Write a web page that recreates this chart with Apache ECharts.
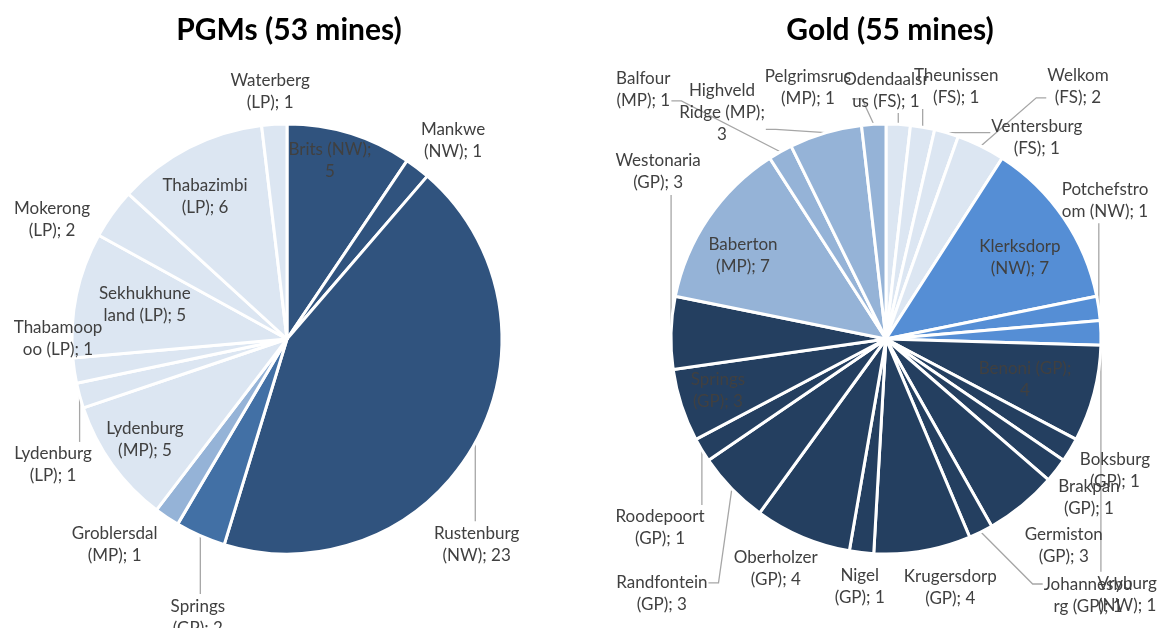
<!DOCTYPE html>
<html>
<head>
<meta charset="utf-8">
<script src="https://cdn.jsdelivr.net/npm/echarts@6.0.0/dist/echarts.min.js"></script>
<style>html,body{margin:0;padding:0;background:#fff}#c{width:1161px;height:628px}</style>
</head>
<body>
<div id="c"></div>
<script>
// ---------- DATA ----------
const pgmTitle = 'PGMs (53 mines)';
const pgmNames = ['Brits (NW)', 'Mankwe (NW)', 'Rustenburg (NW)', 'Springs (GP)', 'Groblersdal (MP)', 'Lydenburg (MP)',
  'Lydenburg (LP)', 'Thabamoopoo (LP)', 'Sekhukhuneland (LP)', 'Mokerong (LP)', 'Thabazimbi (LP)', 'Waterberg (LP)'];
const pgmValues = [5, 1, 23, 2, 1, 5, 1, 1, 5, 2, 6, 1];
const pgmLabelPrefix = ['Brits (NW);\n', 'Mankwe\n(NW); ', 'Rustenburg\n(NW); ', 'Springs\n(GP); ', 'Groblersdal\n(MP); ', 'Lydenburg\n(MP); ',
  'Lydenburg\n(LP); ', 'Thabamoop\noo (LP); ', 'Sekhukhune\nland (LP); ', 'Mokerong\n(LP); ', 'Thabazimbi\n(LP); ', 'Waterberg\n(LP); '];

const goldTitle = 'Gold (55 mines)';
const goldNames = ['Odendaalsrus (FS)', 'Theunissen (FS)', 'Ventersburg (FS)', 'Welkom (FS)', 'Klerksdorp (NW)', 'Potchefstroom (NW)',
  'Vryburg (NW)', 'Benoni (GP)', 'Boksburg (GP)', 'Brakpan (GP)', 'Germiston (GP)', 'Johannesburg (GP)', 'Krugersdorp (GP)',
  'Nigel (GP)', 'Oberholzer (GP)', 'Randfontein (GP)', 'Roodepoort (GP)', 'Springs (GP)', 'Westonaria (GP)', 'Baberton (MP)',
  'Balfour (MP)', 'Highveld Ridge (MP)', 'Pelgrimsrus (MP)'];
const goldValues = [1, 1, 1, 2, 7, 1, 1, 4, 1, 1, 3, 1, 4, 1, 4, 3, 1, 3, 3, 7, 1, 3, 1];
const goldLabelPrefix = ['Odendaalsr\nus (FS); ', 'Theunissen\n(FS); ', 'Ventersburg\n(FS); ', 'Welkom\n(FS); ', 'Klerksdorp\n(NW); ',
  'Potchefstro\nom (NW); ', 'Vryburg\n(NW); ', 'Benoni (GP);\n', 'Boksburg\n(GP); ', 'Brakpan\n(GP); ', 'Germiston\n(GP); ',
  'Johannesbu\nrg (GP); ', 'Krugersdorp\n(GP); ', 'Nigel\n(GP); ', 'Oberholzer\n(GP); ', 'Randfontein\n(GP); ', 'Roodepoort\n(GP); ',
  'Springs\n(GP); ', 'Westonaria\n(GP); ', 'Baberton\n(MP); ', 'Balfour\n(MP); ', 'Highveld\nRidge (MP);\n', 'Pelgrimsrus\n(MP); '];

// ---------- STYLE ----------
const C_NW = '#30537E', C_GP1 = '#4270A5', C_MP = '#95B3D7', C_LIGHT = '#DCE6F2';
const pgmColors = [C_NW, C_NW, C_NW, C_GP1, C_MP, C_LIGHT, C_LIGHT, C_LIGHT, C_LIGHT, C_LIGHT, C_LIGHT, C_LIGHT];
const goldColors = [C_LIGHT, C_LIGHT, C_LIGHT, C_LIGHT, '#558ED5', '#558ED5', '#558ED5',
  '#243F60', '#243F60', '#243F60', '#243F60', '#243F60', '#243F60', '#243F60', '#243F60', '#243F60', '#243F60', '#243F60', '#243F60',
  C_MP, C_MP, C_MP, C_MP];
// label placement: [radius factor, angle shift (deg), show leader line]
const pgmPlace = [[0.856,-3.5,0],[1.205,2.5,0],[1.30,18.4,1],[1.358,-6,1],[1.248,6,0],[0.81,0.3,0],[1.236,-13,1],[1.065,8.5,0],
  [0.68,1.6,0],[1.225,-8.8,0],[0.763,-2.8,0],[1.152,-0.5,0]];
const goldPlace = [[1.158,-3.3,1],[1.221,5.7,1],[1.169,20.5,1],[1.474,11.1,1],[0.728,3.2,0],[1.206,-24.2,1],[1.635,48.3,1],
  [0.674,1.7,0],[1.227,-1.3,0],[1.197,0.3,0],[1.266,-1.5,0],[1.517,-12.1,1],[1.192,-4.7,0],[1.160,-0.5,0],[1.186,2.7,0],
  [1.579,-4.5,1],[1.37,-8.8,1],[0.817,1.1,0],[1.314,34.6,1],[0.771,-4,0],[1.618,-14.8,1],[1.299,-19.6,1],[1.223,-14,1]];

const FONT = 'Lato, "Open Sans", sans-serif';
const R = 215;
const pies = [
  {center: [287, 339], names: pgmNames, values: pgmValues, prefix: pgmLabelPrefix, colors: pgmColors, place: pgmPlace},
  {center: [886, 339], names: goldNames, values: goldValues, prefix: goldLabelPrefix, colors: goldColors, place: goldPlace}
];

function midAngle(values, i) {
  const total = values.reduce((a, b) => a + b, 0);
  let before = 0;
  for (let j = 0; j < i; j++) before += values[j];
  return (before + values[i] / 2) / total * 2 * Math.PI;
}

function makeLayout(p) {
  return function (params) {
    const i = params.dataIndex;
    const th = midAngle(p.values, i);
    const pl = p.place[i];
    const cx = p.center[0], cy = p.center[1];
    const a = th + pl[1] * Math.PI / 180;
    const lx = cx + pl[0] * R * Math.sin(a);
    const ly = cy - pl[0] * R * Math.cos(a);
    const w = params.labelRect.width, h = params.labelRect.height;
    const out = {x: lx, y: ly, align: 'center', verticalAlign: 'middle'};
    if (pl[2]) {
      const ex = cx + R * Math.sin(th), ey = cy - R * Math.cos(th);
      const rx = lx - w / 2, ry = ly - h / 2;
      let pts;
      if (ex >= rx && ex <= rx + w) {
        const ay = ey < ry ? ry - 1 : ry + h + 1;
        pts = [[ex, ey], [ex, (ey + ay) / 2], [ex, ay]];
      } else {
        const right = lx > ex;
        const sx = right ? rx - 1 : rx + w + 1;
        const ay = Math.min(Math.max(ey, ry + h * 0.25), ry + h * 0.75);
        pts = [[ex, ey], [sx + (right ? -10 : 10), ay], [sx, ay]];
      }
      out.labelLinePoints = pts;
    }
    return out;
  };
}

const series = pies.map(p => ({
  type: 'pie',
  center: p.center,
  radius: R,
  startAngle: 90,
  clockwise: true,
  avoidLabelOverlap: false,
  animation: false,
  itemStyle: {borderColor: '#ffffff', borderWidth: 3},
  label: {
    show: true, position: 'outside', color: '#404040',
    fontFamily: FONT, fontSize: 17, lineHeight: 22,
    formatter: prm => p.prefix[prm.dataIndex] + prm.value
  },
  labelLine: {show: true, lineStyle: {color: '#A6A6A6', width: 1.3}},
  labelLayout: makeLayout(p),
  emphasis: {disabled: true},
  data: p.names.map((n, i) => ({
    name: n, value: p.values[i],
    itemStyle: {color: p.colors[i]},
    labelLine: {show: !!p.place[i][2]}
  }))
}));

const chart = echarts.init(document.getElementById('c'), null, {renderer: 'canvas'});
chart.setOption({
  backgroundColor: '#ffffff',
  animation: false,
  graphic: [
    {type: 'text', x: 289, y: 30, style: {text: pgmTitle, font: 'bold 30px ' + FONT, fill: '#000', align: 'center', verticalAlign: 'middle'}},
    {type: 'text', x: 890, y: 30, style: {text: goldTitle, font: 'bold 30px ' + FONT, fill: '#000', align: 'center', verticalAlign: 'middle'}}
  ],
  series: series
});
</script>
</body>
</html>
